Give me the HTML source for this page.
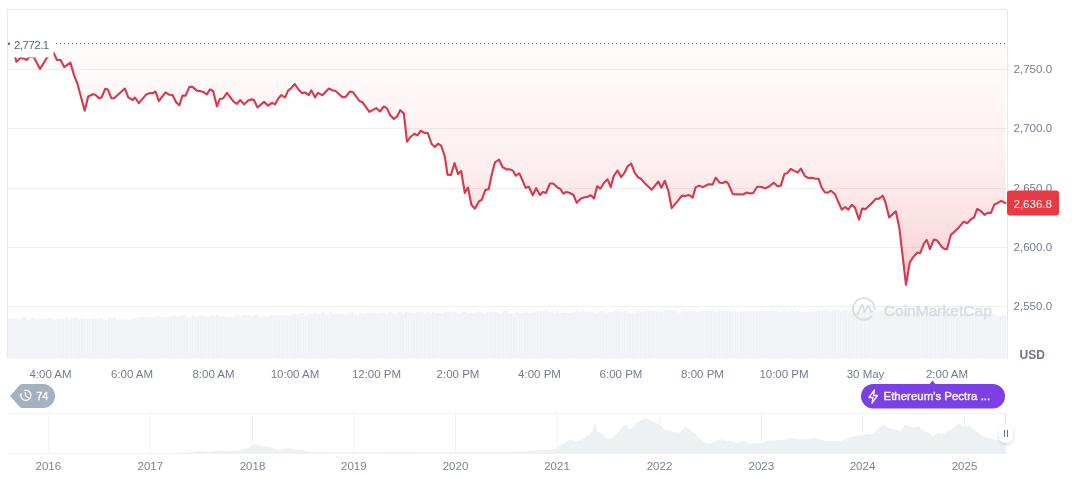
<!DOCTYPE html>
<html><head><meta charset="utf-8"><style>
html,body{margin:0;padding:0;background:#fff;width:1072px;height:477px;overflow:hidden}
svg{display:block;font-family:"Liberation Sans",sans-serif;will-change:transform}
</style></head><body>
<svg width="1072" height="477" viewBox="0 0 1072 477">
<defs>
<linearGradient id="rg" x1="0" y1="43" x2="0" y2="285" gradientUnits="userSpaceOnUse">
<stop offset="0" stop-color="#ea3943" stop-opacity="0.015"/>
<stop offset="0.5" stop-color="#ea3943" stop-opacity="0.08"/>
<stop offset="0.8" stop-color="#ea3943" stop-opacity="0.17"/>
<stop offset="1" stop-color="#ea3943" stop-opacity="0.27"/>
</linearGradient>
<filter id="sh" x="-50%" y="-50%" width="200%" height="200%"><feDropShadow dx="0" dy="1" stdDeviation="1.5" flood-color="#000" flood-opacity="0.18"/></filter>
</defs>
<g stroke="#e9e9e9" stroke-width="1" fill="none">
<line x1="7.5" x2="1007.5" y1="9.5" y2="9.5"/>
<line x1="7.5" x2="7.5" y1="9" y2="358.5"/>
<line x1="1007.5" x2="1007.5" y1="9" y2="358.5"/>
</g>
<g stroke="#efefef" stroke-width="1" fill="none"><line x1="8" x2="1007" y1="69.5" y2="69.5"/><line x1="8" x2="1007" y1="128.5" y2="128.5"/><line x1="8" x2="1007" y1="188.5" y2="188.5"/><line x1="8" x2="1007" y1="247.5" y2="247.5"/><line x1="8" x2="1007" y1="306.5" y2="306.5"/></g>
<polygon points="8.0,318.0 10.7,318.0 10.7,318.9 13.4,318.9 13.4,318.4 16.1,318.4 16.1,319.1 18.8,319.1 18.8,319.1 21.5,319.1 21.5,317.4 24.2,317.4 24.2,317.3 26.9,317.3 26.9,319.7 29.6,319.7 29.6,318.0 32.3,318.0 32.3,317.9 35.0,317.9 35.0,320.1 37.7,320.1 37.7,318.5 40.4,318.5 40.4,319.6 43.1,319.6 43.1,318.5 45.8,318.5 45.8,319.0 48.5,319.0 48.5,317.5 51.2,317.5 51.2,319.0 53.9,319.0 53.9,319.7 56.6,319.7 56.6,318.6 59.3,318.6 59.3,319.2 62.0,319.2 62.0,319.0 64.7,319.0 64.7,317.2 67.4,317.2 67.4,319.3 70.1,319.3 70.1,318.7 72.8,318.7 72.8,317.9 75.5,317.9 75.5,317.0 78.2,317.0 78.2,319.5 80.9,319.5 80.9,318.3 83.6,318.3 83.6,319.0 86.3,319.0 86.3,319.5 89.0,319.5 89.0,319.0 91.7,319.0 91.7,319.6 94.4,319.6 94.4,318.0 97.1,318.0 97.1,319.2 99.8,319.2 99.8,318.1 102.5,318.1 102.5,319.7 105.2,319.7 105.2,319.7 107.9,319.7 107.9,317.5 110.6,317.5 110.6,317.7 113.3,317.7 113.3,318.1 116.0,318.1 116.0,320.5 118.7,320.5 118.7,319.0 121.4,319.0 121.4,319.7 124.1,319.7 124.1,318.9 126.8,318.9 126.8,319.7 129.5,319.7 129.5,319.4 132.2,319.4 132.2,318.6 134.9,318.6 134.9,318.3 137.6,318.3 137.6,317.4 140.3,317.4 140.3,317.5 143.0,317.5 143.0,316.8 145.7,316.8 145.7,317.6 148.4,317.6 148.4,317.3 151.1,317.3 151.1,317.7 153.8,317.7 153.8,316.8 156.5,316.8 156.5,315.2 159.2,315.2 159.2,317.3 161.9,317.3 161.9,317.6 164.6,317.6 164.6,317.4 167.3,317.4 167.3,316.4 170.0,316.4 170.0,316.8 172.7,316.8 172.7,315.3 175.4,315.3 175.4,317.1 178.1,317.1 178.1,316.4 180.8,316.4 180.8,315.5 183.5,315.5 183.5,314.8 186.2,314.8 186.2,317.2 188.9,317.2 188.9,317.6 191.6,317.6 191.6,314.9 194.3,314.9 194.3,317.0 197.0,317.0 197.0,315.8 199.7,315.8 199.7,315.0 202.4,315.0 202.4,315.4 205.1,315.4 205.1,316.8 207.8,316.8 207.8,317.1 210.5,317.1 210.5,314.6 213.2,314.6 213.2,316.3 215.9,316.3 215.9,314.6 218.6,314.6 218.6,316.6 221.3,316.6 221.3,315.5 224.0,315.5 224.0,317.1 226.7,317.1 226.7,317.4 229.4,317.4 229.4,315.9 232.1,315.9 232.1,317.4 234.8,317.4 234.8,315.3 237.5,315.3 237.5,314.6 240.2,314.6 240.2,316.2 242.9,316.2 242.9,314.5 245.6,314.5 245.6,315.0 248.3,315.0 248.3,315.6 251.0,315.6 251.0,316.2 253.7,316.2 253.7,314.8 256.4,314.8 256.4,314.4 259.1,314.4 259.1,316.9 261.8,316.9 261.8,315.2 264.5,315.2 264.5,317.0 267.2,317.0 267.2,316.6 269.9,316.6 269.9,314.9 272.6,314.9 272.6,315.1 275.3,315.1 275.3,315.1 278.0,315.1 278.0,315.3 280.7,315.3 280.7,315.1 283.4,315.1 283.4,314.8 286.1,314.8 286.1,314.9 288.8,314.9 288.8,315.7 291.5,315.7 291.5,314.2 294.2,314.2 294.2,313.9 296.9,313.9 296.9,314.6 299.6,314.6 299.6,313.0 302.3,313.0 302.3,313.2 305.0,313.2 305.0,315.2 307.7,315.2 307.7,313.8 310.4,313.8 310.4,313.9 313.1,313.9 313.1,312.2 315.8,312.2 315.8,313.4 318.5,313.4 318.5,313.9 321.2,313.9 321.2,312.2 323.9,312.2 323.9,313.9 326.6,313.9 326.6,314.0 329.3,314.0 329.3,312.2 332.0,312.2 332.0,313.9 334.7,313.9 334.7,313.4 337.4,313.4 337.4,314.0 340.1,314.0 340.1,313.0 342.8,313.0 342.8,314.1 345.5,314.1 345.5,314.1 348.2,314.1 348.2,312.0 350.9,312.0 350.9,312.1 353.6,312.1 353.6,313.9 356.3,313.9 356.3,314.7 359.0,314.7 359.0,312.6 361.7,312.6 361.7,313.2 364.4,313.2 364.4,313.5 367.1,313.5 367.1,312.7 369.8,312.7 369.8,312.8 372.5,312.8 372.5,312.6 375.2,312.6 375.2,312.8 377.9,312.8 377.9,313.4 380.6,313.4 380.6,312.5 383.3,312.5 383.3,312.7 386.0,312.7 386.0,313.9 388.7,313.9 388.7,311.6 391.4,311.6 391.4,313.2 394.1,313.2 394.1,313.7 396.8,313.7 396.8,312.4 399.5,312.4 399.5,312.1 402.2,312.1 402.2,313.9 404.9,313.9 404.9,312.1 407.6,312.1 407.6,312.0 410.3,312.0 410.3,312.7 413.0,312.7 413.0,313.5 415.7,313.5 415.7,311.6 418.4,311.6 418.4,312.3 421.1,312.3 421.1,312.3 423.8,312.3 423.8,313.8 426.5,313.8 426.5,312.6 429.2,312.6 429.2,313.8 431.9,313.8 431.9,311.7 434.6,311.7 434.6,312.2 437.3,312.2 437.3,313.1 440.0,313.1 440.0,313.8 442.7,313.8 442.7,312.5 445.4,312.5 445.4,311.8 448.1,311.8 448.1,311.4 450.8,311.4 450.8,312.6 453.5,312.6 453.5,311.6 456.2,311.6 456.2,313.4 458.9,313.4 458.9,313.5 461.6,313.5 461.6,311.5 464.3,311.5 464.3,311.8 467.0,311.8 467.0,313.3 469.7,313.3 469.7,312.8 472.4,312.8 472.4,313.3 475.1,313.3 475.1,311.9 477.8,311.9 477.8,311.2 480.5,311.2 480.5,311.7 483.2,311.7 483.2,313.2 485.9,313.2 485.9,311.6 488.6,311.6 488.6,311.8 491.3,311.8 491.3,312.0 494.0,312.0 494.0,311.9 496.7,311.9 496.7,311.9 499.4,311.9 499.4,313.4 502.1,313.4 502.1,311.1 504.8,311.1 504.8,310.6 507.5,310.6 507.5,313.4 510.2,313.4 510.2,313.2 512.9,313.2 512.9,313.5 515.6,313.5 515.6,311.8 518.3,311.8 518.3,313.3 521.0,313.3 521.0,313.2 523.7,313.2 523.7,311.1 526.4,311.1 526.4,312.6 529.1,312.6 529.1,312.9 531.8,312.9 531.8,312.4 534.5,312.4 534.5,311.9 537.2,311.9 537.2,311.2 539.9,311.2 539.9,311.3 542.6,311.3 542.6,311.0 545.3,311.0 545.3,310.5 548.0,310.5 548.0,312.0 550.7,312.0 550.7,311.1 553.4,311.1 553.4,312.7 556.1,312.7 556.1,310.4 558.8,310.4 558.8,312.9 561.5,312.9 561.5,312.3 564.2,312.3 564.2,313.0 566.9,313.0 566.9,312.9 569.6,312.9 569.6,312.9 572.3,312.9 572.3,311.9 575.0,311.9 575.0,310.2 577.7,310.2 577.7,312.4 580.4,312.4 580.4,310.7 583.1,310.7 583.1,311.1 585.8,311.1 585.8,312.1 588.5,312.1 588.5,311.7 591.2,311.7 591.2,311.4 593.9,311.4 593.9,312.9 596.6,312.9 596.6,311.9 599.3,311.9 599.3,311.1 602.0,311.1 602.0,310.8 604.7,310.8 604.7,312.7 607.4,312.7 607.4,311.5 610.1,311.5 610.1,312.4 612.8,312.4 612.8,311.1 615.5,311.1 615.5,310.6 618.2,310.6 618.2,311.6 620.9,311.6 620.9,312.5 623.6,312.5 623.6,310.5 626.3,310.5 626.3,312.4 629.0,312.4 629.0,312.8 631.7,312.8 631.7,312.4 634.4,312.4 634.4,312.4 637.1,312.4 637.1,310.0 639.8,310.0 639.8,311.8 642.5,311.8 642.5,312.5 645.2,312.5 645.2,310.1 647.9,310.1 647.9,310.7 650.6,310.7 650.6,310.7 653.3,310.7 653.3,311.5 656.0,311.5 656.0,311.2 658.7,311.2 658.7,311.3 661.4,311.3 661.4,312.2 664.1,312.2 664.1,309.9 666.8,309.9 666.8,310.0 669.5,310.0 669.5,310.2 672.2,310.2 672.2,310.2 674.9,310.2 674.9,310.0 677.6,310.0 677.6,312.7 680.3,312.7 680.3,312.4 683.0,312.4 683.0,310.1 685.7,310.1 685.7,311.3 688.4,311.3 688.4,310.7 691.1,310.7 691.1,310.7 693.8,310.7 693.8,310.8 696.5,310.8 696.5,311.7 699.2,311.7 699.2,311.5 701.9,311.5 701.9,310.8 704.6,310.8 704.6,310.3 707.3,310.3 707.3,310.7 710.0,310.7 710.0,310.1 712.7,310.1 712.7,311.4 715.4,311.4 715.4,311.8 718.1,311.8 718.1,310.8 720.8,310.8 720.8,309.9 723.5,309.9 723.5,310.2 726.2,310.2 726.2,310.8 728.9,310.8 728.9,311.5 731.6,311.5 731.6,312.0 734.3,312.0 734.3,310.8 737.0,310.8 737.0,312.0 739.7,312.0 739.7,311.5 742.4,311.5 742.4,310.9 745.1,310.9 745.1,310.7 747.8,310.7 747.8,311.1 750.5,311.1 750.5,311.7 753.2,311.7 753.2,310.8 755.9,310.8 755.9,311.6 758.6,311.6 758.6,310.9 761.3,310.9 761.3,310.3 764.0,310.3 764.0,311.1 766.7,311.1 766.7,311.6 769.4,311.6 769.4,309.7 772.1,309.7 772.1,310.8 774.8,310.8 774.8,310.8 777.5,310.8 777.5,312.1 780.2,312.1 780.2,312.3 782.9,312.3 782.9,310.6 785.6,310.6 785.6,312.1 788.3,312.1 788.3,311.8 791.0,311.8 791.0,310.2 793.7,310.2 793.7,310.8 796.4,310.8 796.4,309.8 799.1,309.8 799.1,311.8 801.8,311.8 801.8,311.4 804.5,311.4 804.5,312.0 807.2,312.0 807.2,311.8 809.9,311.8 809.9,311.4 812.6,311.4 812.6,311.6 815.3,311.6 815.3,311.0 818.0,311.0 818.0,309.7 820.7,309.7 820.7,311.1 823.4,311.1 823.4,309.3 826.1,309.3 826.1,309.7 828.8,309.7 828.8,311.6 831.5,311.6 831.5,309.5 834.2,309.5 834.2,309.6 836.9,309.6 836.9,309.7 839.6,309.7 839.6,312.1 842.3,312.1 842.3,310.0 845.0,310.0 845.0,309.6 847.7,309.6 847.7,312.1 850.4,312.1 850.4,310.0 853.1,310.0 853.1,312.2 855.8,312.2 855.8,311.7 858.5,311.7 858.5,312.2 861.2,312.2 861.2,312.6 863.9,312.6 863.9,311.5 866.6,311.5 866.6,312.2 869.3,312.2 869.3,310.0 872.0,310.0 872.0,312.2 874.7,312.2 874.7,311.5 877.4,311.5 877.4,312.1 880.1,312.1 880.1,310.3 882.8,310.3 882.8,312.3 885.5,312.3 885.5,312.9 888.2,312.9 888.2,310.3 890.9,310.3 890.9,311.1 893.6,311.1 893.6,311.9 896.3,311.9 896.3,312.7 899.0,312.7 899.0,311.0 901.7,311.0 901.7,310.9 904.4,310.9 904.4,311.2 907.1,311.2 907.1,312.4 909.8,312.4 909.8,312.9 912.5,312.9 912.5,311.9 915.2,311.9 915.2,311.9 917.9,311.9 917.9,312.1 920.6,312.1 920.6,312.0 923.3,312.0 923.3,312.3 926.0,312.3 926.0,311.4 928.7,311.4 928.7,312.7 931.4,312.7 931.4,314.2 934.1,314.2 934.1,312.7 936.8,312.7 936.8,313.7 939.5,313.7 939.5,312.1 942.2,312.1 942.2,313.8 944.9,313.8 944.9,314.0 947.6,314.0 947.6,313.9 950.3,313.9 950.3,313.5 953.0,313.5 953.0,313.5 955.7,313.5 955.7,314.1 958.4,314.1 958.4,314.9 961.1,314.9 961.1,312.7 963.8,312.7 963.8,312.7 966.5,312.7 966.5,314.7 969.2,314.7 969.2,315.3 971.9,315.3 971.9,314.2 974.6,314.2 974.6,314.1 977.3,314.1 977.3,315.0 980.0,315.0 980.0,313.5 982.7,313.5 982.7,313.8 985.4,313.8 985.4,313.7 988.1,313.7 988.1,314.9 990.8,314.9 990.8,314.2 993.5,314.2 993.5,314.1 996.2,314.1 996.2,315.5 998.9,315.5 998.9,316.4 1001.6,316.4 1001.6,314.5 1004.3,314.5 1004.3,315.8 1007.0,315.8 1007.5,358.5 8,358.5" fill="#f0f2f5"/><g fill="#f7f8fa"><rect x="10.10" y="318.0" width="0.6" height="40.5"/><rect x="12.80" y="318.9" width="0.6" height="39.6"/><rect x="15.50" y="318.4" width="0.6" height="40.1"/><rect x="18.20" y="319.1" width="0.6" height="39.4"/><rect x="20.90" y="319.1" width="0.6" height="39.4"/><rect x="23.60" y="317.4" width="0.6" height="41.1"/><rect x="26.30" y="317.3" width="0.6" height="41.2"/><rect x="29.00" y="319.7" width="0.6" height="38.8"/><rect x="31.70" y="318.0" width="0.6" height="40.5"/><rect x="34.40" y="317.9" width="0.6" height="40.6"/><rect x="37.10" y="320.1" width="0.6" height="38.4"/><rect x="39.80" y="318.5" width="0.6" height="40.0"/><rect x="42.50" y="319.6" width="0.6" height="38.9"/><rect x="45.20" y="318.5" width="0.6" height="40.0"/><rect x="47.90" y="319.0" width="0.6" height="39.5"/><rect x="50.60" y="317.5" width="0.6" height="41.0"/><rect x="53.30" y="319.0" width="0.6" height="39.5"/><rect x="56.00" y="319.7" width="0.6" height="38.8"/><rect x="58.70" y="318.6" width="0.6" height="39.9"/><rect x="61.40" y="319.2" width="0.6" height="39.3"/><rect x="64.10" y="319.0" width="0.6" height="39.5"/><rect x="66.80" y="317.2" width="0.6" height="41.3"/><rect x="69.50" y="319.3" width="0.6" height="39.2"/><rect x="72.20" y="318.7" width="0.6" height="39.8"/><rect x="74.90" y="317.9" width="0.6" height="40.6"/><rect x="77.60" y="317.0" width="0.6" height="41.5"/><rect x="80.30" y="319.5" width="0.6" height="39.0"/><rect x="83.00" y="318.3" width="0.6" height="40.2"/><rect x="85.70" y="319.0" width="0.6" height="39.5"/><rect x="88.40" y="319.5" width="0.6" height="39.0"/><rect x="91.10" y="319.0" width="0.6" height="39.5"/><rect x="93.80" y="319.6" width="0.6" height="38.9"/><rect x="96.50" y="318.0" width="0.6" height="40.5"/><rect x="99.20" y="319.2" width="0.6" height="39.3"/><rect x="101.90" y="318.1" width="0.6" height="40.4"/><rect x="104.60" y="319.7" width="0.6" height="38.8"/><rect x="107.30" y="319.7" width="0.6" height="38.8"/><rect x="110.00" y="317.5" width="0.6" height="41.0"/><rect x="112.70" y="317.7" width="0.6" height="40.8"/><rect x="115.40" y="318.1" width="0.6" height="40.4"/><rect x="118.10" y="320.5" width="0.6" height="38.0"/><rect x="120.80" y="319.0" width="0.6" height="39.5"/><rect x="123.50" y="319.7" width="0.6" height="38.8"/><rect x="126.20" y="318.9" width="0.6" height="39.6"/><rect x="128.90" y="319.7" width="0.6" height="38.8"/><rect x="131.60" y="319.4" width="0.6" height="39.1"/><rect x="134.30" y="318.6" width="0.6" height="39.9"/><rect x="137.00" y="318.3" width="0.6" height="40.2"/><rect x="139.70" y="317.4" width="0.6" height="41.1"/><rect x="142.40" y="317.5" width="0.6" height="41.0"/><rect x="145.10" y="316.8" width="0.6" height="41.7"/><rect x="147.80" y="317.6" width="0.6" height="40.9"/><rect x="150.50" y="317.3" width="0.6" height="41.2"/><rect x="153.20" y="317.7" width="0.6" height="40.8"/><rect x="155.90" y="316.8" width="0.6" height="41.7"/><rect x="158.60" y="315.2" width="0.6" height="43.3"/><rect x="161.30" y="317.3" width="0.6" height="41.2"/><rect x="164.00" y="317.6" width="0.6" height="40.9"/><rect x="166.70" y="317.4" width="0.6" height="41.1"/><rect x="169.40" y="316.4" width="0.6" height="42.1"/><rect x="172.10" y="316.8" width="0.6" height="41.7"/><rect x="174.80" y="315.3" width="0.6" height="43.2"/><rect x="177.50" y="317.1" width="0.6" height="41.4"/><rect x="180.20" y="316.4" width="0.6" height="42.1"/><rect x="182.90" y="315.5" width="0.6" height="43.0"/><rect x="185.60" y="314.8" width="0.6" height="43.7"/><rect x="188.30" y="317.2" width="0.6" height="41.3"/><rect x="191.00" y="317.6" width="0.6" height="40.9"/><rect x="193.70" y="314.9" width="0.6" height="43.6"/><rect x="196.40" y="317.0" width="0.6" height="41.5"/><rect x="199.10" y="315.8" width="0.6" height="42.7"/><rect x="201.80" y="315.0" width="0.6" height="43.5"/><rect x="204.50" y="315.4" width="0.6" height="43.1"/><rect x="207.20" y="316.8" width="0.6" height="41.7"/><rect x="209.90" y="317.1" width="0.6" height="41.4"/><rect x="212.60" y="314.6" width="0.6" height="43.9"/><rect x="215.30" y="316.3" width="0.6" height="42.2"/><rect x="218.00" y="314.6" width="0.6" height="43.9"/><rect x="220.70" y="316.6" width="0.6" height="41.9"/><rect x="223.40" y="315.5" width="0.6" height="43.0"/><rect x="226.10" y="317.1" width="0.6" height="41.4"/><rect x="228.80" y="317.4" width="0.6" height="41.1"/><rect x="231.50" y="315.9" width="0.6" height="42.6"/><rect x="234.20" y="317.4" width="0.6" height="41.1"/><rect x="236.90" y="315.3" width="0.6" height="43.2"/><rect x="239.60" y="314.6" width="0.6" height="43.9"/><rect x="242.30" y="316.2" width="0.6" height="42.3"/><rect x="245.00" y="314.5" width="0.6" height="44.0"/><rect x="247.70" y="315.0" width="0.6" height="43.5"/><rect x="250.40" y="315.6" width="0.6" height="42.9"/><rect x="253.10" y="316.2" width="0.6" height="42.3"/><rect x="255.80" y="314.8" width="0.6" height="43.7"/><rect x="258.50" y="314.4" width="0.6" height="44.1"/><rect x="261.20" y="316.9" width="0.6" height="41.6"/><rect x="263.90" y="315.2" width="0.6" height="43.3"/><rect x="266.60" y="317.0" width="0.6" height="41.5"/><rect x="269.30" y="316.6" width="0.6" height="41.9"/><rect x="272.00" y="314.9" width="0.6" height="43.6"/><rect x="274.70" y="315.1" width="0.6" height="43.4"/><rect x="277.40" y="315.1" width="0.6" height="43.4"/><rect x="280.10" y="315.3" width="0.6" height="43.2"/><rect x="282.80" y="315.1" width="0.6" height="43.4"/><rect x="285.50" y="314.8" width="0.6" height="43.7"/><rect x="288.20" y="314.9" width="0.6" height="43.6"/><rect x="290.90" y="315.7" width="0.6" height="42.8"/><rect x="293.60" y="314.2" width="0.6" height="44.3"/><rect x="296.30" y="313.9" width="0.6" height="44.6"/><rect x="299.00" y="314.6" width="0.6" height="43.9"/><rect x="301.70" y="313.0" width="0.6" height="45.5"/><rect x="304.40" y="313.2" width="0.6" height="45.3"/><rect x="307.10" y="315.2" width="0.6" height="43.3"/><rect x="309.80" y="313.8" width="0.6" height="44.7"/><rect x="312.50" y="313.9" width="0.6" height="44.6"/><rect x="315.20" y="312.2" width="0.6" height="46.3"/><rect x="317.90" y="313.4" width="0.6" height="45.1"/><rect x="320.60" y="313.9" width="0.6" height="44.6"/><rect x="323.30" y="312.2" width="0.6" height="46.3"/><rect x="326.00" y="313.9" width="0.6" height="44.6"/><rect x="328.70" y="314.0" width="0.6" height="44.5"/><rect x="331.40" y="312.2" width="0.6" height="46.3"/><rect x="334.10" y="313.9" width="0.6" height="44.6"/><rect x="336.80" y="313.4" width="0.6" height="45.1"/><rect x="339.50" y="314.0" width="0.6" height="44.5"/><rect x="342.20" y="313.0" width="0.6" height="45.5"/><rect x="344.90" y="314.1" width="0.6" height="44.4"/><rect x="347.60" y="314.1" width="0.6" height="44.4"/><rect x="350.30" y="312.0" width="0.6" height="46.5"/><rect x="353.00" y="312.1" width="0.6" height="46.4"/><rect x="355.70" y="313.9" width="0.6" height="44.6"/><rect x="358.40" y="314.7" width="0.6" height="43.8"/><rect x="361.10" y="312.6" width="0.6" height="45.9"/><rect x="363.80" y="313.2" width="0.6" height="45.3"/><rect x="366.50" y="313.5" width="0.6" height="45.0"/><rect x="369.20" y="312.7" width="0.6" height="45.8"/><rect x="371.90" y="312.8" width="0.6" height="45.7"/><rect x="374.60" y="312.6" width="0.6" height="45.9"/><rect x="377.30" y="312.8" width="0.6" height="45.7"/><rect x="380.00" y="313.4" width="0.6" height="45.1"/><rect x="382.70" y="312.5" width="0.6" height="46.0"/><rect x="385.40" y="312.7" width="0.6" height="45.8"/><rect x="388.10" y="313.9" width="0.6" height="44.6"/><rect x="390.80" y="311.6" width="0.6" height="46.9"/><rect x="393.50" y="313.2" width="0.6" height="45.3"/><rect x="396.20" y="313.7" width="0.6" height="44.8"/><rect x="398.90" y="312.4" width="0.6" height="46.1"/><rect x="401.60" y="312.1" width="0.6" height="46.4"/><rect x="404.30" y="313.9" width="0.6" height="44.6"/><rect x="407.00" y="312.1" width="0.6" height="46.4"/><rect x="409.70" y="312.0" width="0.6" height="46.5"/><rect x="412.40" y="312.7" width="0.6" height="45.8"/><rect x="415.10" y="313.5" width="0.6" height="45.0"/><rect x="417.80" y="311.6" width="0.6" height="46.9"/><rect x="420.50" y="312.3" width="0.6" height="46.2"/><rect x="423.20" y="312.3" width="0.6" height="46.2"/><rect x="425.90" y="313.8" width="0.6" height="44.7"/><rect x="428.60" y="312.6" width="0.6" height="45.9"/><rect x="431.30" y="313.8" width="0.6" height="44.7"/><rect x="434.00" y="311.7" width="0.6" height="46.8"/><rect x="436.70" y="312.2" width="0.6" height="46.3"/><rect x="439.40" y="313.1" width="0.6" height="45.4"/><rect x="442.10" y="313.8" width="0.6" height="44.7"/><rect x="444.80" y="312.5" width="0.6" height="46.0"/><rect x="447.50" y="311.8" width="0.6" height="46.7"/><rect x="450.20" y="311.4" width="0.6" height="47.1"/><rect x="452.90" y="312.6" width="0.6" height="45.9"/><rect x="455.60" y="311.6" width="0.6" height="46.9"/><rect x="458.30" y="313.4" width="0.6" height="45.1"/><rect x="461.00" y="313.5" width="0.6" height="45.0"/><rect x="463.70" y="311.5" width="0.6" height="47.0"/><rect x="466.40" y="311.8" width="0.6" height="46.7"/><rect x="469.10" y="313.3" width="0.6" height="45.2"/><rect x="471.80" y="312.8" width="0.6" height="45.7"/><rect x="474.50" y="313.3" width="0.6" height="45.2"/><rect x="477.20" y="311.9" width="0.6" height="46.6"/><rect x="479.90" y="311.2" width="0.6" height="47.3"/><rect x="482.60" y="311.7" width="0.6" height="46.8"/><rect x="485.30" y="313.2" width="0.6" height="45.3"/><rect x="488.00" y="311.6" width="0.6" height="46.9"/><rect x="490.70" y="311.8" width="0.6" height="46.7"/><rect x="493.40" y="312.0" width="0.6" height="46.5"/><rect x="496.10" y="311.9" width="0.6" height="46.6"/><rect x="498.80" y="311.9" width="0.6" height="46.6"/><rect x="501.50" y="313.4" width="0.6" height="45.1"/><rect x="504.20" y="311.1" width="0.6" height="47.4"/><rect x="506.90" y="310.6" width="0.6" height="47.9"/><rect x="509.60" y="313.4" width="0.6" height="45.1"/><rect x="512.30" y="313.2" width="0.6" height="45.3"/><rect x="515.00" y="313.5" width="0.6" height="45.0"/><rect x="517.70" y="311.8" width="0.6" height="46.7"/><rect x="520.40" y="313.3" width="0.6" height="45.2"/><rect x="523.10" y="313.2" width="0.6" height="45.3"/><rect x="525.80" y="311.1" width="0.6" height="47.4"/><rect x="528.50" y="312.6" width="0.6" height="45.9"/><rect x="531.20" y="312.9" width="0.6" height="45.6"/><rect x="533.90" y="312.4" width="0.6" height="46.1"/><rect x="536.60" y="311.9" width="0.6" height="46.6"/><rect x="539.30" y="311.2" width="0.6" height="47.3"/><rect x="542.00" y="311.3" width="0.6" height="47.2"/><rect x="544.70" y="311.0" width="0.6" height="47.5"/><rect x="547.40" y="310.5" width="0.6" height="48.0"/><rect x="550.10" y="312.0" width="0.6" height="46.5"/><rect x="552.80" y="311.1" width="0.6" height="47.4"/><rect x="555.50" y="312.7" width="0.6" height="45.8"/><rect x="558.20" y="310.4" width="0.6" height="48.1"/><rect x="560.90" y="312.9" width="0.6" height="45.6"/><rect x="563.60" y="312.3" width="0.6" height="46.2"/><rect x="566.30" y="313.0" width="0.6" height="45.5"/><rect x="569.00" y="312.9" width="0.6" height="45.6"/><rect x="571.70" y="312.9" width="0.6" height="45.6"/><rect x="574.40" y="311.9" width="0.6" height="46.6"/><rect x="577.10" y="310.2" width="0.6" height="48.3"/><rect x="579.80" y="312.4" width="0.6" height="46.1"/><rect x="582.50" y="310.7" width="0.6" height="47.8"/><rect x="585.20" y="311.1" width="0.6" height="47.4"/><rect x="587.90" y="312.1" width="0.6" height="46.4"/><rect x="590.60" y="311.7" width="0.6" height="46.8"/><rect x="593.30" y="311.4" width="0.6" height="47.1"/><rect x="596.00" y="312.9" width="0.6" height="45.6"/><rect x="598.70" y="311.9" width="0.6" height="46.6"/><rect x="601.40" y="311.1" width="0.6" height="47.4"/><rect x="604.10" y="310.8" width="0.6" height="47.7"/><rect x="606.80" y="312.7" width="0.6" height="45.8"/><rect x="609.50" y="311.5" width="0.6" height="47.0"/><rect x="612.20" y="312.4" width="0.6" height="46.1"/><rect x="614.90" y="311.1" width="0.6" height="47.4"/><rect x="617.60" y="310.6" width="0.6" height="47.9"/><rect x="620.30" y="311.6" width="0.6" height="46.9"/><rect x="623.00" y="312.5" width="0.6" height="46.0"/><rect x="625.70" y="310.5" width="0.6" height="48.0"/><rect x="628.40" y="312.4" width="0.6" height="46.1"/><rect x="631.10" y="312.8" width="0.6" height="45.7"/><rect x="633.80" y="312.4" width="0.6" height="46.1"/><rect x="636.50" y="312.4" width="0.6" height="46.1"/><rect x="639.20" y="310.0" width="0.6" height="48.5"/><rect x="641.90" y="311.8" width="0.6" height="46.7"/><rect x="644.60" y="312.5" width="0.6" height="46.0"/><rect x="647.30" y="310.1" width="0.6" height="48.4"/><rect x="650.00" y="310.7" width="0.6" height="47.8"/><rect x="652.70" y="310.7" width="0.6" height="47.8"/><rect x="655.40" y="311.5" width="0.6" height="47.0"/><rect x="658.10" y="311.2" width="0.6" height="47.3"/><rect x="660.80" y="311.3" width="0.6" height="47.2"/><rect x="663.50" y="312.2" width="0.6" height="46.3"/><rect x="666.20" y="309.9" width="0.6" height="48.6"/><rect x="668.90" y="310.0" width="0.6" height="48.5"/><rect x="671.60" y="310.2" width="0.6" height="48.3"/><rect x="674.30" y="310.2" width="0.6" height="48.3"/><rect x="677.00" y="310.0" width="0.6" height="48.5"/><rect x="679.70" y="312.7" width="0.6" height="45.8"/><rect x="682.40" y="312.4" width="0.6" height="46.1"/><rect x="685.10" y="310.1" width="0.6" height="48.4"/><rect x="687.80" y="311.3" width="0.6" height="47.2"/><rect x="690.50" y="310.7" width="0.6" height="47.8"/><rect x="693.20" y="310.7" width="0.6" height="47.8"/><rect x="695.90" y="310.8" width="0.6" height="47.7"/><rect x="698.60" y="311.7" width="0.6" height="46.8"/><rect x="701.30" y="311.5" width="0.6" height="47.0"/><rect x="704.00" y="310.8" width="0.6" height="47.7"/><rect x="706.70" y="310.3" width="0.6" height="48.2"/><rect x="709.40" y="310.7" width="0.6" height="47.8"/><rect x="712.10" y="310.1" width="0.6" height="48.4"/><rect x="714.80" y="311.4" width="0.6" height="47.1"/><rect x="717.50" y="311.8" width="0.6" height="46.7"/><rect x="720.20" y="310.8" width="0.6" height="47.7"/><rect x="722.90" y="309.9" width="0.6" height="48.6"/><rect x="725.60" y="310.2" width="0.6" height="48.3"/><rect x="728.30" y="310.8" width="0.6" height="47.7"/><rect x="731.00" y="311.5" width="0.6" height="47.0"/><rect x="733.70" y="312.0" width="0.6" height="46.5"/><rect x="736.40" y="310.8" width="0.6" height="47.7"/><rect x="739.10" y="312.0" width="0.6" height="46.5"/><rect x="741.80" y="311.5" width="0.6" height="47.0"/><rect x="744.50" y="310.9" width="0.6" height="47.6"/><rect x="747.20" y="310.7" width="0.6" height="47.8"/><rect x="749.90" y="311.1" width="0.6" height="47.4"/><rect x="752.60" y="311.7" width="0.6" height="46.8"/><rect x="755.30" y="310.8" width="0.6" height="47.7"/><rect x="758.00" y="311.6" width="0.6" height="46.9"/><rect x="760.70" y="310.9" width="0.6" height="47.6"/><rect x="763.40" y="310.3" width="0.6" height="48.2"/><rect x="766.10" y="311.1" width="0.6" height="47.4"/><rect x="768.80" y="311.6" width="0.6" height="46.9"/><rect x="771.50" y="309.7" width="0.6" height="48.8"/><rect x="774.20" y="310.8" width="0.6" height="47.7"/><rect x="776.90" y="310.8" width="0.6" height="47.7"/><rect x="779.60" y="312.1" width="0.6" height="46.4"/><rect x="782.30" y="312.3" width="0.6" height="46.2"/><rect x="785.00" y="310.6" width="0.6" height="47.9"/><rect x="787.70" y="312.1" width="0.6" height="46.4"/><rect x="790.40" y="311.8" width="0.6" height="46.7"/><rect x="793.10" y="310.2" width="0.6" height="48.3"/><rect x="795.80" y="310.8" width="0.6" height="47.7"/><rect x="798.50" y="309.8" width="0.6" height="48.7"/><rect x="801.20" y="311.8" width="0.6" height="46.7"/><rect x="803.90" y="311.4" width="0.6" height="47.1"/><rect x="806.60" y="312.0" width="0.6" height="46.5"/><rect x="809.30" y="311.8" width="0.6" height="46.7"/><rect x="812.00" y="311.4" width="0.6" height="47.1"/><rect x="814.70" y="311.6" width="0.6" height="46.9"/><rect x="817.40" y="311.0" width="0.6" height="47.5"/><rect x="820.10" y="309.7" width="0.6" height="48.8"/><rect x="822.80" y="311.1" width="0.6" height="47.4"/><rect x="825.50" y="309.3" width="0.6" height="49.2"/><rect x="828.20" y="309.7" width="0.6" height="48.8"/><rect x="830.90" y="311.6" width="0.6" height="46.9"/><rect x="833.60" y="309.5" width="0.6" height="49.0"/><rect x="836.30" y="309.6" width="0.6" height="48.9"/><rect x="839.00" y="309.7" width="0.6" height="48.8"/><rect x="841.70" y="312.1" width="0.6" height="46.4"/><rect x="844.40" y="310.0" width="0.6" height="48.5"/><rect x="847.10" y="309.6" width="0.6" height="48.9"/><rect x="849.80" y="312.1" width="0.6" height="46.4"/><rect x="852.50" y="310.0" width="0.6" height="48.5"/><rect x="855.20" y="312.2" width="0.6" height="46.3"/><rect x="857.90" y="311.7" width="0.6" height="46.8"/><rect x="860.60" y="312.2" width="0.6" height="46.3"/><rect x="863.30" y="312.6" width="0.6" height="45.9"/><rect x="866.00" y="311.5" width="0.6" height="47.0"/><rect x="868.70" y="312.2" width="0.6" height="46.3"/><rect x="871.40" y="310.0" width="0.6" height="48.5"/><rect x="874.10" y="312.2" width="0.6" height="46.3"/><rect x="876.80" y="311.5" width="0.6" height="47.0"/><rect x="879.50" y="312.1" width="0.6" height="46.4"/><rect x="882.20" y="310.3" width="0.6" height="48.2"/><rect x="884.90" y="312.3" width="0.6" height="46.2"/><rect x="887.60" y="312.9" width="0.6" height="45.6"/><rect x="890.30" y="310.3" width="0.6" height="48.2"/><rect x="893.00" y="311.1" width="0.6" height="47.4"/><rect x="895.70" y="311.9" width="0.6" height="46.6"/><rect x="898.40" y="312.7" width="0.6" height="45.8"/><rect x="901.10" y="311.0" width="0.6" height="47.5"/><rect x="903.80" y="310.9" width="0.6" height="47.6"/><rect x="906.50" y="311.2" width="0.6" height="47.3"/><rect x="909.20" y="312.4" width="0.6" height="46.1"/><rect x="911.90" y="312.9" width="0.6" height="45.6"/><rect x="914.60" y="311.9" width="0.6" height="46.6"/><rect x="917.30" y="311.9" width="0.6" height="46.6"/><rect x="920.00" y="312.1" width="0.6" height="46.4"/><rect x="922.70" y="312.0" width="0.6" height="46.5"/><rect x="925.40" y="312.3" width="0.6" height="46.2"/><rect x="928.10" y="311.4" width="0.6" height="47.1"/><rect x="930.80" y="312.7" width="0.6" height="45.8"/><rect x="933.50" y="314.2" width="0.6" height="44.3"/><rect x="936.20" y="312.7" width="0.6" height="45.8"/><rect x="938.90" y="313.7" width="0.6" height="44.8"/><rect x="941.60" y="312.1" width="0.6" height="46.4"/><rect x="944.30" y="313.8" width="0.6" height="44.7"/><rect x="947.00" y="314.0" width="0.6" height="44.5"/><rect x="949.70" y="313.9" width="0.6" height="44.6"/><rect x="952.40" y="313.5" width="0.6" height="45.0"/><rect x="955.10" y="313.5" width="0.6" height="45.0"/><rect x="957.80" y="314.1" width="0.6" height="44.4"/><rect x="960.50" y="314.9" width="0.6" height="43.6"/><rect x="963.20" y="312.7" width="0.6" height="45.8"/><rect x="965.90" y="312.7" width="0.6" height="45.8"/><rect x="968.60" y="314.7" width="0.6" height="43.8"/><rect x="971.30" y="315.3" width="0.6" height="43.2"/><rect x="974.00" y="314.2" width="0.6" height="44.3"/><rect x="976.70" y="314.1" width="0.6" height="44.4"/><rect x="979.40" y="315.0" width="0.6" height="43.5"/><rect x="982.10" y="313.5" width="0.6" height="45.0"/><rect x="984.80" y="313.8" width="0.6" height="44.7"/><rect x="987.50" y="313.7" width="0.6" height="44.8"/><rect x="990.20" y="314.9" width="0.6" height="43.6"/><rect x="992.90" y="314.2" width="0.6" height="44.3"/><rect x="995.60" y="314.1" width="0.6" height="44.4"/><rect x="998.30" y="315.5" width="0.6" height="43.0"/><rect x="1001.00" y="316.4" width="0.6" height="42.1"/><rect x="1003.70" y="314.5" width="0.6" height="44.0"/><rect x="1006.40" y="315.8" width="0.6" height="42.7"/></g>
<polygon points="8.6,43.1 8.6,43.6 15.2,57.3 16.4,61.7 20.5,57.8 25.0,59.0 26.7,60.0 28.9,57.3 31.5,56.5 33.9,57.3 40.1,68.9 47.2,57.3 53.5,52.8 57.0,60.0 60.6,60.0 64.2,67.1 70.4,62.6 74.0,75.1 77.5,84.0 84.7,110.8 88.2,96.5 92.7,94.2 95.4,94.7 98.9,98.3 101.6,97.4 105.2,88.8 107.8,89.4 111.4,98.3 114.1,98.3 124.8,88.5 128.3,97.4 132.8,100.0 135.0,97.5 138.8,103.1 146.3,94.4 150.0,93.1 153.1,93.1 155.6,91.5 158.8,101.0 165.6,92.3 169.4,94.8 172.5,95.0 176.3,102.5 179.4,105.3 182.5,95.6 185.6,95.6 189.4,86.9 192.5,86.9 196.9,90.6 200.0,91.0 203.1,91.9 206.9,94.4 210.0,89.4 213.1,91.0 216.9,106.3 220.0,98.8 223.1,98.5 226.9,92.8 233.8,101.9 236.9,103.8 240.3,100.0 244.0,104.4 248.1,100.6 251.3,99.4 253.8,99.8 257.5,107.5 264.0,101.9 268.1,105.6 271.9,102.8 275.0,104.4 278.1,98.8 281.3,95.0 285.0,97.5 288.1,90.6 291.3,88.1 294.8,84.0 298.8,90.0 301.9,93.1 305.0,92.5 308.8,95.0 311.3,90.3 315.0,97.3 318.1,92.8 322.5,95.3 328.8,88.5 332.5,90.3 335.6,91.0 342.5,97.3 345.6,96.9 350.0,91.5 353.1,92.3 359.4,101.0 362.5,102.3 369.4,111.9 376.3,108.1 380.0,111.5 383.8,106.5 386.9,108.1 390.0,115.0 393.9,118.9 397.1,116.5 400.2,110.2 403.8,113.4 407.0,141.7 410.4,137.0 414.4,133.8 417.5,135.4 420.7,130.7 424.6,133.0 427.7,133.0 431.7,144.0 434.8,146.9 438.0,143.7 441.1,145.6 444.7,156.0 447.5,174.6 451.0,174.9 454.5,163.1 458.1,174.1 461.2,170.9 464.8,193.0 468.0,187.5 471.4,204.7 474.9,208.7 479.0,201.3 481.7,200.0 485.3,190.1 488.7,189.3 491.9,174.1 495.0,162.3 499.0,159.5 502.6,167.3 506.8,169.4 510.0,169.4 513.1,170.9 515.8,175.7 519.4,173.3 525.7,187.8 528.8,186.7 532.8,195.3 536.2,188.2 540.0,195.0 542.9,191.9 546.0,193.0 549.9,183.5 553.1,183.5 557.8,187.8 560.2,188.7 563.3,193.7 566.4,191.9 569.9,193.0 573.5,195.0 576.7,202.9 580.6,198.8 584.5,197.2 587.7,196.9 590.8,195.3 594.0,198.5 597.1,186.2 600.3,188.7 604.2,182.7 607.6,179.3 610.8,187.1 613.6,176.4 617.5,170.5 621.2,177.2 624.6,172.5 627.8,166.2 631.2,163.6 634.6,172.7 637.9,177.2 641.0,178.8 644.2,182.7 651.7,189.8 658.3,181.5 661.4,187.8 664.9,180.8 668.5,191.4 671.7,208.2 677.2,201.6 681.9,195.6 685.0,196.1 689.0,195.0 692.6,197.7 695.7,187.1 699.2,185.6 702.6,187.1 708.6,184.3 712.5,184.6 715.7,177.7 719.6,182.7 722.8,183.0 725.9,181.5 728.1,183.5 732.9,194.1 743.1,194.5 746.7,192.5 750.2,193.4 753.3,193.0 757.2,186.7 760.4,186.7 765.1,188.2 768.2,187.1 773.7,182.7 777.7,186.2 780.8,185.6 784.4,174.1 787.1,173.3 790.7,168.9 794.2,170.9 797.6,172.5 800.8,168.6 805.2,176.4 808.3,178.0 811.5,177.7 815.4,178.8 818.6,178.8 821.7,187.5 824.7,192.3 827.9,192.6 831.0,190.7 834.9,194.2 841.7,209.6 845.2,207.0 848.3,209.6 851.8,204.8 854.9,207.5 859.0,219.6 862.1,208.6 865.6,209.1 870.3,204.8 875.8,198.9 879.0,198.6 882.6,195.7 885.3,202.0 889.2,217.4 895.8,211.3 899.4,228.3 906.0,284.9 909.8,262.3 913.6,256.6 917.4,252.5 920.2,253.2 924.0,243.4 926.8,240.0 930.0,249.1 933.8,239.6 937.2,240.6 941.9,247.2 944.7,249.1 947.0,249.1 950.8,234.9 955.1,231.1 958.9,227.4 963.6,221.7 967.3,223.3 970.8,219.4 974.2,217.3 977.1,209.0 980.2,210.6 984.4,214.8 988.1,212.7 990.9,212.9 994.4,204.4 997.3,203.2 1001.3,200.9 1005.4,203.2 1005.4,43.1" fill="url(#rg)"/>
<line x1="8" x2="1007" y1="43.5" y2="43.5" stroke="#6e7480" stroke-width="1" stroke-dasharray="1 3"/>
<polyline points="15.2,57.3 16.4,61.7 20.5,57.8 25.0,59.0 26.7,60.0 28.9,57.3 31.5,56.5 33.9,57.3 40.1,68.9 47.2,57.3 53.5,52.8 57.0,60.0 60.6,60.0 64.2,67.1 70.4,62.6 74.0,75.1 77.5,84.0 84.7,110.8 88.2,96.5 92.7,94.2 95.4,94.7 98.9,98.3 101.6,97.4 105.2,88.8 107.8,89.4 111.4,98.3 114.1,98.3 124.8,88.5 128.3,97.4 132.8,100.0 135.0,97.5 138.8,103.1 146.3,94.4 150.0,93.1 153.1,93.1 155.6,91.5 158.8,101.0 165.6,92.3 169.4,94.8 172.5,95.0 176.3,102.5 179.4,105.3 182.5,95.6 185.6,95.6 189.4,86.9 192.5,86.9 196.9,90.6 200.0,91.0 203.1,91.9 206.9,94.4 210.0,89.4 213.1,91.0 216.9,106.3 220.0,98.8 223.1,98.5 226.9,92.8 233.8,101.9 236.9,103.8 240.3,100.0 244.0,104.4 248.1,100.6 251.3,99.4 253.8,99.8 257.5,107.5 264.0,101.9 268.1,105.6 271.9,102.8 275.0,104.4 278.1,98.8 281.3,95.0 285.0,97.5 288.1,90.6 291.3,88.1 294.8,84.0 298.8,90.0 301.9,93.1 305.0,92.5 308.8,95.0 311.3,90.3 315.0,97.3 318.1,92.8 322.5,95.3 328.8,88.5 332.5,90.3 335.6,91.0 342.5,97.3 345.6,96.9 350.0,91.5 353.1,92.3 359.4,101.0 362.5,102.3 369.4,111.9 376.3,108.1 380.0,111.5 383.8,106.5 386.9,108.1 390.0,115.0 393.9,118.9 397.1,116.5 400.2,110.2 403.8,113.4 407.0,141.7 410.4,137.0 414.4,133.8 417.5,135.4 420.7,130.7 424.6,133.0 427.7,133.0 431.7,144.0 434.8,146.9 438.0,143.7 441.1,145.6 444.7,156.0 447.5,174.6 451.0,174.9 454.5,163.1 458.1,174.1 461.2,170.9 464.8,193.0 468.0,187.5 471.4,204.7 474.9,208.7 479.0,201.3 481.7,200.0 485.3,190.1 488.7,189.3 491.9,174.1 495.0,162.3 499.0,159.5 502.6,167.3 506.8,169.4 510.0,169.4 513.1,170.9 515.8,175.7 519.4,173.3 525.7,187.8 528.8,186.7 532.8,195.3 536.2,188.2 540.0,195.0 542.9,191.9 546.0,193.0 549.9,183.5 553.1,183.5 557.8,187.8 560.2,188.7 563.3,193.7 566.4,191.9 569.9,193.0 573.5,195.0 576.7,202.9 580.6,198.8 584.5,197.2 587.7,196.9 590.8,195.3 594.0,198.5 597.1,186.2 600.3,188.7 604.2,182.7 607.6,179.3 610.8,187.1 613.6,176.4 617.5,170.5 621.2,177.2 624.6,172.5 627.8,166.2 631.2,163.6 634.6,172.7 637.9,177.2 641.0,178.8 644.2,182.7 651.7,189.8 658.3,181.5 661.4,187.8 664.9,180.8 668.5,191.4 671.7,208.2 677.2,201.6 681.9,195.6 685.0,196.1 689.0,195.0 692.6,197.7 695.7,187.1 699.2,185.6 702.6,187.1 708.6,184.3 712.5,184.6 715.7,177.7 719.6,182.7 722.8,183.0 725.9,181.5 728.1,183.5 732.9,194.1 743.1,194.5 746.7,192.5 750.2,193.4 753.3,193.0 757.2,186.7 760.4,186.7 765.1,188.2 768.2,187.1 773.7,182.7 777.7,186.2 780.8,185.6 784.4,174.1 787.1,173.3 790.7,168.9 794.2,170.9 797.6,172.5 800.8,168.6 805.2,176.4 808.3,178.0 811.5,177.7 815.4,178.8 818.6,178.8 821.7,187.5 824.7,192.3 827.9,192.6 831.0,190.7 834.9,194.2 841.7,209.6 845.2,207.0 848.3,209.6 851.8,204.8 854.9,207.5 859.0,219.6 862.1,208.6 865.6,209.1 870.3,204.8 875.8,198.9 879.0,198.6 882.6,195.7 885.3,202.0 889.2,217.4 895.8,211.3 899.4,228.3 906.0,284.9 909.8,262.3 913.6,256.6 917.4,252.5 920.2,253.2 924.0,243.4 926.8,240.0 930.0,249.1 933.8,239.6 937.2,240.6 941.9,247.2 944.7,249.1 947.0,249.1 950.8,234.9 955.1,231.1 958.9,227.4 963.6,221.7 967.3,223.3 970.8,219.4 974.2,217.3 977.1,209.0 980.2,210.6 984.4,214.8 988.1,212.7 990.9,212.9 994.4,204.4 997.3,203.2 1001.3,200.9 1005.4,203.2" fill="none" stroke="#d8384b" stroke-width="2.1" stroke-linejoin="round" stroke-linecap="round"/>
<rect x="9.8" y="34" width="43.7" height="23.4" fill="#fff"/>
<circle cx="9" cy="43.8" r="1.2" fill="#58667e"/>
<text x="14" y="49" font-size="11.5" fill="#58667e" textLength="35.2">2,772.1</text>
<g font-size="11.5" fill="#737c8f"><text x="1013.5" y="72.8" textLength="38.6">2,750.0</text><text x="1013.5" y="131.8" textLength="38.6">2,700.0</text><text x="1013.5" y="191.8" textLength="38.6">2,650.0</text><text x="1013.5" y="250.8" textLength="38.6">2,600.0</text><text x="1013.5" y="309.8" textLength="38.6">2,550.0</text></g>
<g font-size="11.5" fill="#737c8f"><text x="50.5" y="378" text-anchor="middle">4:00 AM</text><text x="132" y="378" text-anchor="middle">6:00 AM</text><text x="213.5" y="378" text-anchor="middle">8:00 AM</text><text x="295" y="378" text-anchor="middle">10:00 AM</text><text x="376.5" y="378" text-anchor="middle">12:00 PM</text><text x="458" y="378" text-anchor="middle">2:00 PM</text><text x="539.5" y="378" text-anchor="middle">4:00 PM</text><text x="621" y="378" text-anchor="middle">6:00 PM</text><text x="702.5" y="378" text-anchor="middle">8:00 PM</text><text x="784" y="378" text-anchor="middle">10:00 PM</text><text x="865.5" y="378" text-anchor="middle">30 May</text><text x="947" y="378" text-anchor="middle">2:00 AM</text></g>
<rect x="1007" y="190.5" width="52" height="25" rx="3" fill="#ea3943"/>
<text x="1013.5" y="207.5" font-size="11.5" fill="#fff">2,636.8</text>
<text x="1019.5" y="358.5" font-size="12" font-weight="bold" fill="#6c7588">USD</text>
<!-- watermark -->
<g>
<path d="M871.5 316.5 A10.8 10.8 0 1 1 874.6 309.5" fill="none" stroke="#d9dde4" stroke-width="1.8" stroke-linecap="round"/>
<path d="M857.3 314.2 L861.6 305.6 Q862.6 304.2 863.2 306 L864.3 312.6 L867.6 306.4 Q868.4 305.2 869.1 306.6 L870.6 311.6 Q871.2 312.6 872.6 311.6" fill="none" stroke="#d9dde4" stroke-width="1.8" stroke-linecap="round" stroke-linejoin="round"/>
<text x="883.8" y="316" font-size="14.8" fill="#d9dde4" stroke="#d9dde4" stroke-width="0.6" textLength="108" lengthAdjust="spacingAndGlyphs">CoinMarketCap</text>
</g>
<!-- 74 badge -->
<path d="M10 396 L19.5 385.2 Q20.5 384 22.5 384 L43 384 A12 12 0 0 1 43 408 L22.5 408 Q20.5 408 19.5 406.8 Z" fill="#a6b0c3"/>
<circle cx="25.8" cy="395.3" r="5.1" fill="none" stroke="#fff" stroke-width="1.3" stroke-dasharray="17 4.6 11.5 0"/>
<circle cx="20.8" cy="394.4" r="0.9" fill="#fff"/>
<path d="M25.3 392.6 L25.6 395.8 L28 397.6" fill="none" stroke="#fff" stroke-width="1.2" stroke-linecap="round" stroke-linejoin="round"/>
<text x="36.2" y="400" font-size="11" fill="#fff" stroke="#fff" stroke-width="0.35">74</text>
<!-- navigator -->
<g stroke="#eff2f5" stroke-width="1" fill="none">
<line x1="8" x2="1007" y1="413.5" y2="413.5"/>
<line x1="8" x2="1007" y1="453.5" y2="453.5"/>
<line x1="48.3" x2="48.3" y1="413.5" y2="453.5"/><line x1="150.3" x2="150.3" y1="413.5" y2="453.5"/><line x1="252.5" x2="252.5" y1="413.5" y2="453.5"/><line x1="353.8" x2="353.8" y1="413.5" y2="453.5"/><line x1="455.5" x2="455.5" y1="413.5" y2="453.5"/><line x1="557" x2="557" y1="413.5" y2="453.5"/><line x1="659.5" x2="659.5" y1="413.5" y2="453.5"/><line x1="761.3" x2="761.3" y1="413.5" y2="453.5"/><line x1="862.5" x2="862.5" y1="413.5" y2="453.5"/><line x1="964.5" x2="964.5" y1="413.5" y2="453.5"/>
</g>
<polygon points="8.0,453.3 170.0,453.1 188.8,452.5 198.8,450.6 207.5,451.9 217.5,450.3 230.0,451.3 240.0,450.3 247.5,448.1 255.0,443.8 260.0,445.6 271.3,447.5 278.8,450.6 287.5,448.1 295.0,449.4 304.0,450.6 315.0,452.0 360.0,452.3 400.0,452.0 440.0,452.3 480.0,451.8 500.0,452.0 530.0,451.0 557.5,448.8 560.0,445.0 565.0,443.1 570.6,439.0 575.0,441.9 580.0,440.0 585.0,436.9 589.4,435.0 592.5,430.6 595.0,421.9 596.9,431.3 601.3,433.5 607.5,439.4 612.5,437.8 616.3,434.4 621.3,428.1 626.3,424.4 630.0,430.0 637.5,422.5 645.6,418.1 650.6,420.6 656.3,422.5 661.3,426.3 665.0,430.0 670.0,430.6 674.0,431.9 679.6,432.5 685.3,426.3 690.3,430.6 695.3,433.8 699.0,438.1 705.3,442.5 710.3,443.8 716.5,440.6 722.1,439.0 726.5,441.3 731.5,441.0 736.5,443.1 744.6,441.0 749.0,443.5 761.5,443.1 769.0,440.6 782.8,440.0 790.3,438.1 799.0,439.4 808.0,439.0 813.0,438.1 823.0,439.8 825.5,441.0 840.5,441.3 848.0,438.1 858.0,435.6 863.0,435.0 868.0,434.0 873.0,434.4 878.0,428.8 883.0,424.4 888.0,427.5 895.5,429.4 900.5,430.6 904.9,424.4 913.0,427.5 919.3,426.3 923.0,430.6 928.0,432.5 933.0,436.3 938.0,433.1 942.0,434.0 945.0,432.7 950.8,429.8 958.8,422.9 963.4,426.3 969.2,426.3 973.8,429.2 978.4,432.7 984.2,437.3 994.6,439.6 999.2,440.8 1006.1,441.9 1006.1,453.3 8,453.3" fill="#eef1f4"/>
<g font-size="11.5" fill="#7a8395"><text x="48.3" y="469.5" text-anchor="middle">2016</text><text x="150.3" y="469.5" text-anchor="middle">2017</text><text x="252.5" y="469.5" text-anchor="middle">2018</text><text x="353.8" y="469.5" text-anchor="middle">2019</text><text x="455.5" y="469.5" text-anchor="middle">2020</text><text x="557" y="469.5" text-anchor="middle">2021</text><text x="659.5" y="469.5" text-anchor="middle">2022</text><text x="761.3" y="469.5" text-anchor="middle">2023</text><text x="862.5" y="469.5" text-anchor="middle">2024</text><text x="964.5" y="469.5" text-anchor="middle">2025</text></g>
<line x1="1005.5" x2="1005.5" y1="413.5" y2="425" stroke="#dfe3e8" stroke-width="1"/>
<rect x="999" y="424" width="14" height="19" rx="7" fill="#fff" filter="url(#sh)"/>
<line x1="1004.5" x2="1004.5" y1="430" y2="437" stroke="#6c7588" stroke-width="1.1"/>
<line x1="1007.5" x2="1007.5" y1="430" y2="437" stroke="#6c7588" stroke-width="1.1"/>
<!-- event pill -->
<path d="M929.3 384.5 L932.5 380.5 L935.7 384.5 Z" fill="#7b3fe4"/>
<rect x="861" y="384" width="144" height="24.5" rx="12.25" fill="#7b3fe4"/>
<path d="M874.5 390 L869 397.5 L873 397.5 L872 403 L877.5 395.5 L873.5 395.5 Z" fill="none" stroke="#fff" stroke-width="1.3" stroke-linejoin="round"/>
<text x="883.5" y="400" font-size="11.5" fill="#f6f0ff" stroke="#f6f0ff" stroke-width="0.45" textLength="106.7" lengthAdjust="spacingAndGlyphs">Ethereum's Pectra ...</text>
</svg>
</body></html>
